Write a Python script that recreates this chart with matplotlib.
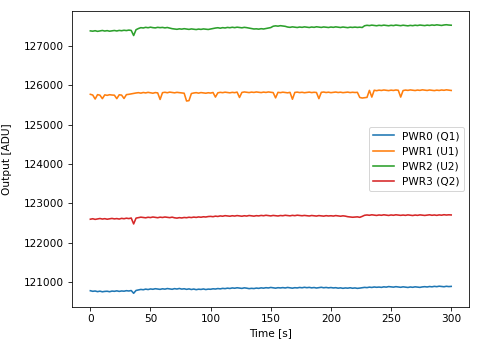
import numpy as np
import matplotlib
matplotlib.use("Agg")
import matplotlib.pyplot as plt

plt.rcParams["font.size"] = 10.5
plt.rcParams["xtick.major.size"] = 4
plt.rcParams["ytick.major.size"] = 4.5

# sample times, one reading every 2 s
time_s = np.arange(0, 301, 2)

labels = ["PWR0 (Q1)", "PWR1 (U1)", "PWR2 (U2)", "PWR3 (Q2)"]

pwr0 = [
    120785, 120770, 120778, 120762, 120774, 120758, 120768, 120772, 120760, 120776,
    120770, 120782, 120768, 120779, 120773, 120786, 120778, 120790, 120720, 120792,
    120805, 120818, 120810, 120826, 120815, 120830, 120822, 120836, 120828, 120820,
    120834, 120825, 120840, 120830, 120822, 120838, 120828, 120842, 120826, 120835,
    120820, 120832, 120816, 120828, 120812, 120824, 120818, 120830, 120815, 120826,
    120822, 120834, 120828, 120840, 120832, 120845, 120838, 120850, 120842, 120856,
    120848, 120860, 120852, 120844, 120858, 120850, 120838, 120846, 120840, 120852,
    120845, 120858, 120850, 120862, 120855, 120868, 120858, 120850, 120862, 120856,
    120864, 120855, 120868, 120858, 120850, 120862, 120856, 120868, 120860, 120872,
    120862, 120870, 120858, 120866, 120854, 120864, 120872, 120860, 120868, 120858,
    120866, 120856, 120862, 120850, 120858, 120846, 120856, 120850, 120860, 120848,
    120856, 120845, 120852, 120862, 120870, 120864, 120876, 120868, 120880, 120872,
    120878, 120870, 120884, 120876, 120890, 120882, 120876, 120888, 120880, 120872,
    120884, 120876, 120868, 120880, 120872, 120884, 120878, 120870, 120882, 120888,
    120880, 120892, 120884, 120896, 120888, 120900, 120892, 120886, 120898, 120890,
    120895,
]

pwr1 = [
    125770, 125752, 125650, 125762, 125748, 125660, 125756, 125744, 125760, 125752,
    125748, 125660, 125758, 125750, 125664, 125762, 125770, 125782, 125792, 125804,
    125812, 125800, 125816, 125806, 125820, 125810, 125798, 125814, 125806, 125640,
    125812, 125822, 125810, 125826, 125816, 125808, 125820, 125812, 125804, 125798,
    125600, 125610, 125790, 125804, 125812, 125800, 125814, 125806, 125798, 125810,
    125802, 125816, 125700, 125808, 125820, 125812, 125824, 125816, 125808, 125820,
    125812, 125826, 125690, 125818, 125830, 125822, 125814, 125826, 125818, 125830,
    125822, 125814, 125826, 125818, 125830, 125822, 125814, 125680, 125820, 125812,
    125824, 125816, 125808, 125820, 125645, 125818, 125826, 125814, 125822, 125810,
    125818, 125826, 125814, 125822, 125816, 125660, 125820, 125828, 125816, 125824,
    125812, 125820, 125828, 125816, 125824, 125812, 125820, 125826, 125814, 125822,
    125816, 125820, 125690, 125676, 125684, 125692, 125870, 125700, 125874, 125862,
    125876, 125868, 125880, 125872, 125864, 125876, 125868, 125880, 125872, 125700,
    125866, 125878, 125870, 125882, 125874, 125866, 125878, 125870, 125884, 125876,
    125868, 125880, 125872, 125864, 125876, 125868, 125880, 125872, 125884, 125876,
    125868,
]

pwr2 = [
    127380, 127372, 127384, 127368, 127378, 127390, 127376, 127386, 127372, 127382,
    127390, 127378, 127392, 127384, 127396, 127388, 127400, 127392, 127262, 127410,
    127440, 127462, 127454, 127470, 127460, 127474, 127462, 127456, 127470, 127462,
    127468, 127456, 127466, 127450, 127436, 127428, 127420, 127432, 127424, 127436,
    127426, 127418, 127430, 127422, 127414, 127426, 127418, 127430, 127422, 127416,
    127428, 127440, 127452, 127460, 127448, 127462, 127454, 127468, 127460, 127472,
    127462, 127474, 127466, 127458, 127470, 127462, 127450, 127436, 127428, 127432,
    127424, 127436, 127428, 127440, 127452, 127464, 127498, 127508, 127500, 127512,
    127504, 127496, 127478, 127470, 127482, 127474, 127466, 127478, 127470, 127482,
    127474, 127466, 127478, 127470, 127484, 127476, 127468, 127480, 127472, 127466,
    127478, 127470, 127482, 127474, 127466, 127478, 127470, 127462, 127474, 127468,
    127476, 127468, 127474, 127466, 127510, 127522, 127514, 127526, 127518, 127510,
    127522, 127514, 127526, 127518, 127510, 127522, 127514, 127528, 127520, 127512,
    127524, 127516, 127508, 127520, 127512, 127524, 127516, 127528, 127520, 127514,
    127526, 127518, 127530, 127522, 127534, 127526, 127518, 127530, 127536, 127528,
    127524,
]

pwr3 = [
    122600, 122612, 122596, 122608, 122618, 122604, 122614, 122600, 122610, 122620,
    122608, 122616, 122604, 122622, 122612, 122626, 122616, 122630, 122480, 122628,
    122640, 122652, 122644, 122636, 122650, 122642, 122656, 122646, 122638, 122652,
    122644, 122656, 122648, 122640, 122652, 122636, 122628, 122640, 122632, 122644,
    122638, 122650, 122642, 122654, 122646, 122658, 122650, 122662, 122656, 122668,
    122672, 122664, 122678, 122670, 122684, 122676, 122690, 122682, 122676, 122688,
    122680, 122692, 122684, 122676, 122688, 122680, 122694, 122686, 122678, 122690,
    122684, 122696, 122688, 122700, 122692, 122684, 122696, 122690, 122682, 122694,
    122688, 122700, 122692, 122686, 122698, 122690, 122702, 122694, 122688, 122696,
    122690, 122682, 122694, 122686, 122680, 122692, 122684, 122678, 122690, 122682,
    122688, 122680, 122692, 122684, 122676, 122686, 122678, 122664, 122656, 122650,
    122654, 122660, 122648, 122672, 122700, 122708, 122700, 122712, 122704, 122696,
    122708, 122700, 122712, 122704, 122696, 122708, 122700, 122712, 122704, 122698,
    122706, 122698, 122710, 122702, 122694, 122706, 122698, 122710, 122702, 122696,
    122704, 122712, 122700, 122708, 122698, 122710, 122702, 122714, 122706, 122712,
    122708,
]

fig = plt.figure(figsize=(480 / 72, 347 / 72), dpi=72)
ax = fig.add_axes([0.1506, 0.1161, 0.827, 0.8513])

for series, label in zip([pwr0, pwr1, pwr2, pwr3], labels):
    ax.plot(time_s, series, label=label, linewidth=1.6)

ax.set_xlabel("Time [s]")
ax.set_ylabel("Output [ADU]", labelpad=12)
ax.legend(loc="center right")

fig.savefig("out.png", dpi=72)
